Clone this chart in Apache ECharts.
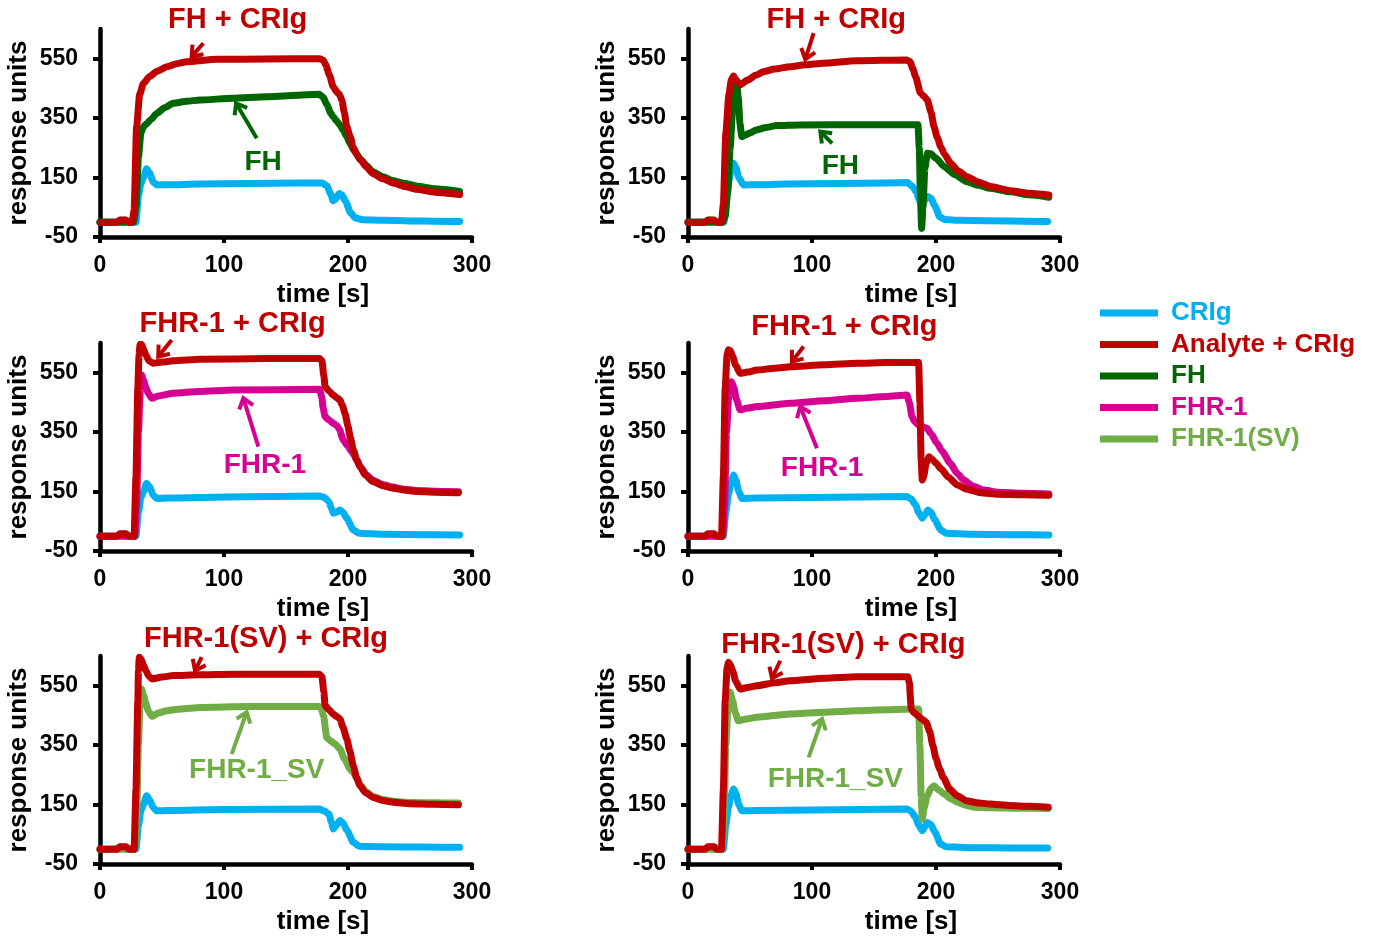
<!DOCTYPE html>
<html><head><meta charset="utf-8">
<script src="https://cdn.jsdelivr.net/npm/echarts@6/dist/echarts.min.js"></script>
<style>html,body{margin:0;padding:0;background:#fff}#c{width:1378px;height:938px}</style>
</head><body><div id="c"></div>
<script>
// ---------- tick labels / categories ----------
const xTicks = [0, 100, 200, 300];
const yTicks = [-50, 150, 350, 550];
const legendNames = ['CRIg', 'Analyte + CRIg', 'FH', 'FHR-1', 'FHR-1(SV)'];
const xTitle = 'time [s]';
const yTitle = 'response units';

// ---------- series values: [time (s), response units] ----------
// Panel 1 (FH, left)
const p1_crig = [[0,0],[14,0],[16,6],[21,6],[23,0],[29,0],[31,90],[33,130],[35,150],[37.5,180],[40,165],[43,135],[46,125],[55,126],[80,128],[120,130],[160,132],[179,132],[183,122],[186,95],[188,72],[190,78],[193,96],[195,92],[198,70],[202,32],[206,14],[212,8],[230,6],[260,4],[290,2]];
const p1_fh = [[0,0],[27,0],[29,50],[31,220],[33,300],[35,321],[37.5,331],[41,345],[45.7,366],[52,385],[59,400],[70,407],[80.6,411],[107,417],[134,422],[177,430],[180,420],[183,395],[186,368],[188,355],[191,340],[193.5,327],[196,310],[199,288],[202,262],[205,240],[210,212],[215,190],[220,170],[228,153],[236,140],[246,130],[255,122],[270,112],[290,103]];
const p1_mix = [[0,0],[14,0],[16,7],[21,7],[23,0],[26,0],[27.5,40],[29.5,320],[32,430],[35,467],[40,490],[46,508],[54,523],[62,533],[70,540],[94,548],[134,549],[177,550],[180,545],[182,530],[185,495],[188,456],[191,438],[193,430],[195,411],[197,370],[199,321],[202,285],[204,254],[207,228],[210,209],[215,185],[220,164],[228,146],[237,131],[246,120],[255,111],[270,101],[290,93]];
// Panel 2 (FH, right)
const p2_crig = [[0,0],[14,0],[16,6],[21,6],[23,0],[29,0],[31,80],[33,140],[35,175],[36.7,198],[38.5,185],[41,150],[44.7,125],[55,126],[80,128],[120,130],[160,132],[177,133],[181,120],[184,102],[186.5,75],[188,63],[190,70],[193.5,86],[196,80],[199,55],[203,18],[207,9],[220,6],[260,4],[290,2]];
const p2_fh = [[0,0],[28,0],[30,20],[32,100],[34,250],[36,380],[38,440],[39.3,465],[40.5,420],[42,330],[43.3,288],[46,293],[50,300],[55,310],[62,318],[71.6,325],[90,327],[140,328],[185.5,328],[186.5,250],[187.5,80],[188.4,-21],[189.5,50],[191,180],[193,232],[195.8,230],[200,215],[206.6,187],[215,160],[225,136],[234,124],[244,114],[260,102],[275,92],[291,84]];
const p2_mix = [[0,0],[14,0],[16,7],[21,7],[23,0],[27,0],[28.5,60],[30.5,300],[33,430],[35,480],[36.7,492],[38.5,480],[42,462],[48,478],[55,495],[60.6,506],[70,515],[82,523],[95,530],[109,535],[136,543],[176.5,546],[179,540],[181.5,515],[183.5,490],[187.5,434],[190,425],[193,411],[196,370],[198.4,321],[201,285],[203.8,254],[207,228],[211.8,198],[218,172],[225,153],[234,135],[244,120],[260,106],[275,97],[291,91]];
// Panel 3 (FHR-1, left)
const p3_crig = [[0,0],[14,0],[16,6],[21,6],[23,0],[29,0],[31,80],[33,130],[35,150],[37.6,178],[40,165],[43,138],[45.7,127],[55,128],[100,132],[177,135],[181,130],[184.6,116],[186.5,95],[188.2,77],[190.5,80],[193.5,88],[196,80],[199,60],[204.3,21],[209,10],[230,6],[260,5],[290,4]];
const p3_fhr1 = [[0,0],[28,0],[29.5,100],[31,350],[32.5,500],[33.6,542],[35,525],[37,500],[39,480],[41.9,464],[47,472],[59,481],[80,487],[107.5,492],[177,494],[178.8,470],[180,430],[181.5,402],[185,390],[188,380],[190.7,373],[193,360],[196.1,324],[199.5,305],[203,284],[205,272],[207,256],[210,232],[215,206],[220,188],[228,174],[236,165],[245,158],[255,154],[270,151],[289,149]];
const p3_mix = [[0,0],[14,0],[16,8],[21,8],[23,0],[27.5,0],[29,200],[30.5,500],[31.5,610],[32.3,645],[33.5,645],[35,630],[37,610],[39.5,590],[42.7,582],[50,586],[59,590],[80.6,595],[134,598],[177,598],[179,590],[180.5,540],[181.5,503],[185,487],[188,475],[191,466],[193.5,458],[195.5,440],[197.6,413],[200,370],[202,330],[204.3,290],[207,258],[209.7,234],[214,205],[220.4,183],[228,170],[236.6,161],[245,155],[255.4,150],[270,148],[289,146]];
// Panel 4 (FHR-1, right)
const p4_crig = [[0,0],[14,0],[16,6],[21,6],[23,0],[28.5,0],[30.5,80],[32.5,140],[35,185],[36.7,206],[38.5,190],[41,150],[43.4,127],[55,128],[100,130],[176.5,133],[180,125],[183.5,105],[186,80],[188.9,60],[191,72],[193.5,88],[196,80],[199,55],[203.8,21],[208,10],[230,6],[260,5],[291,4]];
const p4_fhr1 = [[0,0],[28,0],[29.5,100],[31,350],[33,480],[35,520],[37,500],[39,460],[42,425],[47,430],[55.5,436],[82.4,447],[110,456],[136,464],[160,470],[176.5,475],[178.5,450],[180.6,402],[183,385],[186,374],[189,368],[192.7,363],[196,345],[200.8,313],[205,285],[211.6,245],[217,212],[222.4,189],[230,168],[238.6,155],[250,148],[270,144],[291,142]];
const p4_mix = [[0,0],[14,0],[16,8],[21,8],[23,0],[27,0],[28.5,200],[30,500],[31.5,610],[32.6,627],[34,625],[36,605],[38.5,575],[42,548],[48,552],[55.5,559],[70,565],[82.4,570],[110,577],[136,582],[160,584],[186,584],[187,450],[188,260],[188.9,189],[190,200],[192,245],[194.3,267],[197,258],[200,245],[203.8,228],[210,198],[217.3,172],[225,158],[236,146],[250,141],[270,139],[291,138]];
// Panel 5 (FHR-1(SV), left)
const p5_crig = [[0,0],[14,0],[16,6],[21,6],[23,0],[29,0],[31,80],[33,130],[35,150],[37.6,180],[40,165],[43,140],[45.7,129],[55,130],[100,133],[177,135],[181,128],[184.6,118],[186.5,92],[188.2,68],[190.5,80],[193.5,96],[196,88],[199,64],[204.3,23],[209,10],[230,8],[260,7],[290,6]];
const p5_sv = [[0,0],[28,0],[29.5,100],[31,350],[32.5,510],[33.6,539],[35,520],[37,490],[39,465],[41.9,447],[47,458],[53.8,466],[65,472],[80.6,477],[120,480],[177,480],[178.5,470],[180.2,449],[182.9,376],[186,364],[189.6,354],[193.5,337],[197,305],[201.6,270],[204.5,256],[207,238],[210,215],[215,192],[220.4,177],[228,167],[236.6,161],[250,157],[270,156],[289,155]];
const p5_mix = [[0,0],[14,0],[16,8],[21,8],[23,0],[27.5,0],[29,200],[30.5,500],[31,600],[31.7,646],[33,640],[35,620],[37,600],[39.5,582],[41.9,573],[50,579],[59,584],[80,587],[107.5,589],[177,589],[179,580],[180.5,530],[181.5,483],[185,468],[188,455],[191,446],[193.5,438],[196,410],[199,371],[201.5,330],[204.3,280],[207,240],[209.7,213],[214,190],[220.4,174],[228,164],[236.6,158],[250,153],[270,151],[289,149]];
// Panel 6 (FHR-1(SV), right)
const p6_crig = [[0,0],[14,0],[16,6],[21,6],[23,0],[28.5,0],[30.5,80],[32.5,140],[35,185],[36.7,202],[38.5,188],[41,150],[43.4,129],[55,130],[100,132],[176.5,135],[180,127],[183.5,107],[186,82],[188.9,62],[191,75],[193,90],[196,82],[199,58],[203.8,17],[208,8],[230,5],[260,4],[290,4]];
const p6_sv = [[0,0],[27.5,0],[29,100],[30.5,350],[32.5,500],[34,528],[36,500],[38,460],[40.6,432],[47,438],[55.5,444],[82.4,455],[110,461],[136,466],[160,469],[186,472],[187,350],[188,180],[188.9,101],[190.5,140],[193,180],[196,205],[198.4,213],[202,200],[206.5,186],[212,170],[217.3,158],[224,148],[230.7,141],[245,139],[265,138],[290.5,137]];
const p6_mix = [[0,0],[14,0],[16,8],[21,8],[23,0],[27,0],[28.5,200],[30,500],[31.5,610],[32.6,629],[34,622],[36,600],[38.5,565],[42,539],[48,544],[55.5,550],[70,560],[82.4,567],[110,575],[136,580],[177.3,580],[178.5,560],[180,472],[182,460],[185.4,449],[188.5,438],[192.1,427],[195,395],[197.5,348],[200,305],[202.9,270],[206,240],[211,202],[217,180],[224.5,163],[233,156],[243.3,152],[260,147],[275,144],[290.5,141]];

// ---------- styling / layout ----------
const FONT = '"Liberation Sans", Arial, sans-serif';
const COLORS = {'CRIg':'#00B0F0','Analyte + CRIg':'#C00000','FH':'#006600','FHR-1':'#D60093','FHR-1(SV)':'#70AD47'};
const GRID_LEFT = [100, 688], GRID_TOP = [29, 343, 656], GRID_W = 372, GRID_H = 208;

const panels = [
  {analyte:'FH', crig:p1_crig, an:p1_fh, mix:p1_mix, title:'FH + CRIg', label:'FH',
   titleAt:[111,680], mixArrow:[[83.3,602],[73.9,557]], anArrow:[[126.4,282],[109.7,400]], labelAt:[131.5,202]},
  {analyte:'FH', crig:p2_crig, an:p2_fh, mix:p2_mix, title:'FH + CRIg', label:'FH',
   titleAt:[119.6,680], mixArrow:[[101.3,636],[94.6,548]], anArrow:[[116.2,265],[106.7,305]], labelAt:[122.9,187]},
  {analyte:'FHR-1', crig:p3_crig, an:p3_fhr1, mix:p3_mix, title:'FHR-1 + CRIg', label:'FHR-1',
   titleAt:[106.9,714], mixArrow:[[57.8,660],[47,604]], anArrow:[[127.7,301],[115.6,464]], labelAt:[133,239]},
  {analyte:'FHR-1', crig:p4_crig, an:p4_fhr1, mix:p4_mix, title:'FHR-1 + CRIg', label:'FHR-1',
   titleAt:[126.1,705], mixArrow:[[93.2,638],[83.8,587]], anArrow:[[104,296],[90.5,436]], labelAt:[108.1,228]},
  {analyte:'FHR-1(SV)', crig:p5_crig, an:p5_sv, mix:p5_mix, title:'FHR-1(SV) + CRIg', label:'FHR-1_SV',
   titleAt:[133.9,707], mixArrow:[[82,646],[76.6,601]], anArrow:[[106.2,320],[118.3,461]], labelAt:[126.4,264]},
  {analyte:'FHR-1(SV)', crig:p6_crig, an:p6_sv, mix:p6_mix, title:'FHR-1(SV) + CRIg', label:'FHR-1_SV',
   titleAt:[125.3,687], mixArrow:[[74.4,634],[67.7,575]], anArrow:[[97.3,309],[108.1,438]], labelAt:[118.8,235]}
];

const grids = [], xAxes = [], yAxes = [], series = [];
panels.forEach((p, i) => {
  const row = Math.floor(i / 2), col = i % 2;
  grids.push({left: GRID_LEFT[col], top: GRID_TOP[row], width: GRID_W, height: GRID_H, containLabel: false, outerBoundsMode: 'none'});
  xAxes.push({
    type: 'value', gridIndex: i, min: xTicks[0], max: xTicks[xTicks.length - 1], interval: xTicks[1] - xTicks[0],
    axisLine: {show: true, onZero: false, lineStyle: {color: '#000', width: 4.5}},
    axisTick: {show: true, inside: false, length: 6, lineStyle: {color: '#000', width: 4}},
    splitLine: {show: false},
    axisLabel: {color: '#000', fontSize: 23, fontWeight: 'bold', fontFamily: FONT, margin: 17},
    name: xTitle, nameLocation: 'middle', nameGap: 45,
    nameTextStyle: {color: '#000', fontSize: 26, fontWeight: 'bold', fontFamily: FONT, padding: [0, 0, 0, 74]}
  });
  yAxes.push({
    type: 'value', gridIndex: i, min: yTicks[0], max: 650, interval: yTicks[1] - yTicks[0],
    axisLine: {show: true, onZero: false, lineStyle: {color: '#000', width: 4.5}},
    axisTick: {show: true, inside: false, length: 7, lineStyle: {color: '#000', width: 4}, customValues: yTicks},
    splitLine: {show: false},
    axisLabel: {color: '#000', fontSize: 23, fontWeight: 'bold', fontFamily: FONT, margin: 22, customValues: yTicks},
    name: yTitle, nameLocation: 'middle', nameGap: 68,
    nameTextStyle: {color: '#000', fontSize: 26, fontWeight: 'bold', fontFamily: FONT}
  });
  const mk = (name, data, z) => ({
    type: 'line', name, xAxisIndex: i, yAxisIndex: i, data, symbol: 'none', showSymbol: false,
    smooth: 0.2, smoothMonotone: 'x',
    color: COLORS[name], lineStyle: {width: 7, color: COLORS[name], cap: 'round', join: 'round'},
    z, animation: false, silent: true
  });
  series.push(mk('CRIg', p.crig, 2));
  series.push(mk(p.analyte, p.an, 3));
  series.push(mk('Analyte + CRIg', p.mix, 4));
});

const chart = echarts.init(document.getElementById('c'), null, {renderer: 'canvas'});
chart.setOption({
  backgroundColor: '#fff',
  animation: false,
  grid: grids, xAxis: xAxes, yAxis: yAxes, series,
  legend: {
    orient: 'vertical', left: 1100, top: 300, padding: 0, itemWidth: 58, itemHeight: 7, itemGap: 5.5,
    icon: 'rect', selectedMode: false,
    data: legendNames.map(n => ({name: n, textStyle: {color: COLORS[n]}})),
    textStyle: {fontSize: 26, fontWeight: 'bold', fontFamily: FONT, lineHeight: 26, padding: [0, 0, 0, 8]}
  }
});

// ---------- annotations (positioned from data coordinates) ----------
function arrow(g, from, to, color) {
  const a = chart.convertToPixel({gridIndex: g}, from);
  const b = chart.convertToPixel({gridIndex: g}, to);
  const dx = b[0] - a[0], dy = b[1] - a[1], L = Math.hypot(dx, dy);
  const ux = dx / L, uy = dy / L, ang = 0.65, len = 12;
  const rot = (s) => [b[0] - len * (ux * Math.cos(s * ang) - uy * Math.sin(s * ang)),
                      b[1] - len * (uy * Math.cos(s * ang) + ux * Math.sin(s * ang))];
  return [
    {type: 'polyline', silent: true, z: 100, shape: {points: [a, [b[0] - ux * 2, b[1] - uy * 2]]}, style: {stroke: color, lineWidth: 4, fill: null}},
    {type: 'polyline', silent: true, z: 100, shape: {points: [rot(1), b, rot(-1)]}, style: {stroke: color, lineWidth: 4, fill: null, lineJoin: 'miter'}}
  ];
}
function text(g, at, str, color, size) {
  const p = chart.convertToPixel({gridIndex: g}, at);
  return {type: 'text', silent: true, z: 100, x: p[0], y: p[1],
    style: {text: str, fill: color, font: 'bold ' + size + 'px ' + FONT, align: 'center', verticalAlign: 'middle', textAlign: 'center', textVerticalAlign: 'middle'}};
}
const gfx = [];
panels.forEach((p, i) => {
  const red = COLORS['Analyte + CRIg'], ac = COLORS[p.analyte];
  gfx.push(text(i, p.titleAt, p.title, red, 29));
  gfx.push(...arrow(i, p.mixArrow[0], p.mixArrow[1], red));
  gfx.push(...arrow(i, p.anArrow[0], p.anArrow[1], ac));
  gfx.push(text(i, p.labelAt, p.label, ac, 28));
});
chart.setOption({graphic: {elements: gfx}});
</script>
</body></html>
